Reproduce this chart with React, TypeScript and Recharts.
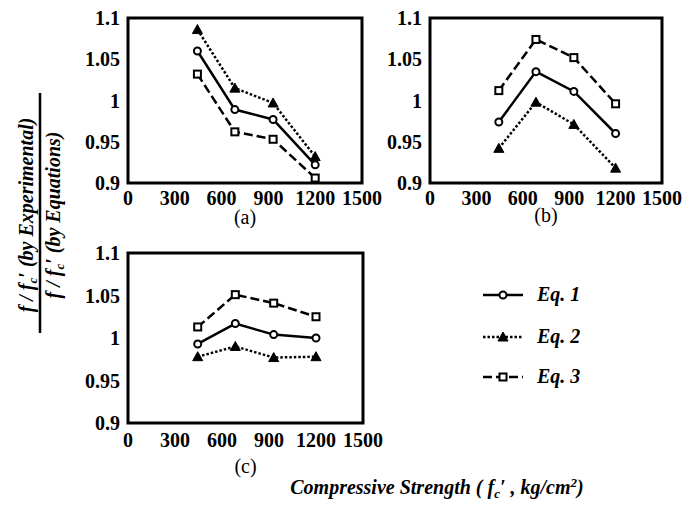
import { LineChart, Line, XAxis, YAxis, ReferenceArea, Label, Legend } from 'recharts'

const FONT = "'Liberation Serif', 'Times New Roman', serif"

// compressive strength of the four mixes (kg/cm2)
const X_VALUES = [445, 685, 930, 1200]
const X_TICKS = [0, 300, 600, 900, 1200, 1500]
const Y_TICKS = [0.9, 0.95, 1, 1.05, 1.1]

// panel (a)
const A_EQ1 = [1.06, 0.989, 0.977, 0.922]
const A_EQ2 = [1.086, 1.015, 0.997, 0.932]
const A_EQ3 = [1.032, 0.962, 0.953, 0.906]
// panel (b)
const B_EQ1 = [0.974, 1.035, 1.011, 0.96]
const B_EQ2 = [0.942, 0.998, 0.971, 0.918]
const B_EQ3 = [1.012, 1.074, 1.052, 0.996]
// panel (c)
const C_EQ1 = [0.993, 1.017, 1.004, 1.0]
const C_EQ2 = [0.978, 0.99, 0.977, 0.978]
const C_EQ3 = [1.013, 1.051, 1.041, 1.025]

const SERIES = [
  { key: 'eq1', name: 'Eq. 1', dash: undefined, marker: 'circle' },
  { key: 'eq2', name: 'Eq. 2', dash: '2.5 2', marker: 'triangle' },
  { key: 'eq3', name: 'Eq. 3', dash: '9 4', marker: 'square' },
]

const italicBold = { fontFamily: FONT, fontStyle: 'italic', fontWeight: 'bold' as const }

function makeRows(eq1: number[], eq2: number[], eq3: number[]) {
  return X_VALUES.map((x, i) => ({ x, eq1: eq1[i], eq2: eq2[i], eq3: eq3[i] }))
}

function Marker({ shape, cx, cy }: { shape: string; cx: number; cy: number }) {
  if (shape === 'circle') {
    return <circle cx={cx} cy={cy} r={3.5} fill="#fff" stroke="#000" strokeWidth={2} />
  }
  if (shape === 'triangle') {
    return (
      <path
        d={`M${cx},${cy - 5} L${cx + 5},${cy + 4} L${cx - 5},${cy + 4} Z`}
        fill="#000"
        stroke="#000"
        strokeWidth={1}
      />
    )
  }
  return <rect x={cx - 3.5} y={cy - 3.5} width={7} height={7} fill="#fff" stroke="#000" strokeWidth={2} />
}

function LegendBox() {
  const rows = [20, 62, 102]
  return (
    <svg width={120} height={120} style={{ overflow: 'visible' }}>
      {SERIES.map((s, i) => (
        <g key={s.key}>
          <line x1={0} x2={40} y1={rows[i]} y2={rows[i]} stroke="#000" strokeWidth={2.5} strokeDasharray={s.dash} />
          <Marker shape={s.marker} cx={20} cy={rows[i]} />
          <text x={54} y={rows[i] + 6} fill="#000" style={{ ...italicBold, fontSize: 20 }}>
            {s.name}
          </text>
        </g>
      ))}
    </svg>
  )
}

interface PanelProps {
  rows: { x: number; eq1: number; eq2: number; eq3: number }[]
  left: number
  top: number
  plotWidth: number
  plotHeight: number
  xAxisHeight: number
  tickMargin: number
  label: string
  labelOffset: number
  rightMargin?: number
  legend?: boolean
}

function Panel({ rows, left, top, plotWidth, plotHeight, xAxisHeight, tickMargin, label, labelOffset, rightMargin = 20, legend }: PanelProps) {
  const yAxisWidth = 68
  const marginTop = 18
  const tickStyle = { fill: '#000', style: { fontFamily: FONT, fontWeight: 'bold', fontSize: 20 } }
  return (
    <div style={{ position: 'absolute', left, top }}>
      <LineChart
        width={yAxisWidth + plotWidth + rightMargin}
        height={marginTop + plotHeight + xAxisHeight}
        data={rows}
        margin={{ top: marginTop, right: rightMargin, bottom: 0, left: 0 }}
      >
        <XAxis
          dataKey="x"
          type="number"
          domain={[0, 1500]}
          ticks={X_TICKS}
          interval={0}
          axisLine={false}
          tickLine={false}
          tickMargin={tickMargin}
          height={xAxisHeight}
          tick={tickStyle}
        >
          <Label
            value={label}
            position="insideBottom"
            offset={labelOffset}
            fill="#000"
            style={{ fontFamily: FONT, fontSize: 20 }}
          />
        </XAxis>
        <YAxis
          type="number"
          domain={[0.9, 1.1]}
          ticks={Y_TICKS}
          interval={0}
          axisLine={false}
          tickLine={false}
          width={yAxisWidth}
          tick={tickStyle}
        />
        <ReferenceArea x1={0} x2={1500} y1={0.9} y2={1.1} fill="none" stroke="#000" strokeWidth={3} />
        {SERIES.map((s) => (
          <Line
            key={s.key}
            dataKey={s.key}
            name={s.name}
            type="linear"
            stroke="#000"
            strokeWidth={2.5}
            strokeDasharray={s.dash}
            isAnimationActive={false}
            dot={(p: any) => <Marker key={`${s.key}-${p.index}`} shape={s.marker} cx={p.cx} cy={p.cy} />}
          />
        ))}
        {legend && (
          <Legend
            layout="vertical"
            align="center"
            verticalAlign="middle"
            content={() => <LegendBox />}
            wrapperStyle={{ position: 'absolute', left: 423, top: 40, width: 120 }}
          />
        )}
      </LineChart>
    </div>
  )
}

export default function App() {
  return (
    <div style={{ position: 'absolute', left: 0, top: 0, width: 682, height: 508, background: '#fff', overflow: 'hidden', fontFamily: FONT }}>
      <Panel rows={makeRows(A_EQ1, A_EQ2, A_EQ3)} left={60} top={0} plotWidth={234} plotHeight={165} xAxisHeight={45} tickMargin={2} label="(a)" labelOffset={4} />
      <Panel rows={makeRows(B_EQ1, B_EQ2, B_EQ3)} left={362} top={0} plotWidth={232} plotHeight={165} xAxisHeight={45} tickMargin={2} label="(b)" labelOffset={6} />
      <Panel
        rows={makeRows(C_EQ1, C_EQ2, C_EQ3)}
        left={60}
        top={235}
        plotWidth={235}
        plotHeight={170}
        xAxisHeight={55}
        tickMargin={4}
        label="(c)"
        labelOffset={5}
        rightMargin={317}
        legend
      />
      <svg width={682} height={508} style={{ position: 'absolute', left: 0, top: 0, pointerEvents: 'none' }}>
        <g fill="#000" style={{ ...italicBold, fontSize: 20 }}>
          <text x={33} y={215} textAnchor="middle" transform="rotate(-90, 33, 215)">
            <tspan>f / f</tspan>
            <tspan dy={4} style={{ fontSize: 13 }}>c</tspan>
            <tspan dy={-4}>′ (by Experimental)</tspan>
          </text>
          <text x={60} y={215} textAnchor="middle" transform="rotate(-90, 60, 215)">
            <tspan>f / f</tspan>
            <tspan dy={4} style={{ fontSize: 13 }}>c</tspan>
            <tspan dy={-4}>′ (by Equations)</tspan>
          </text>
          <text x={437} y={494} textAnchor="middle" style={{ fontSize: 20 }}>
            <tspan>Compressive Strength ( f</tspan>
            <tspan dy={4} style={{ fontSize: 13 }}>c</tspan>
            <tspan dy={-4}>′ , kg/cm</tspan>
            <tspan dy={-7} style={{ fontSize: 13 }}>2</tspan>
            <tspan dy={7}>)</tspan>
          </text>
        </g>
        <line x1={40} x2={40} y1={93} y2={333} stroke="#000" strokeWidth={2.5} />
      </svg>
    </div>
  )
}
